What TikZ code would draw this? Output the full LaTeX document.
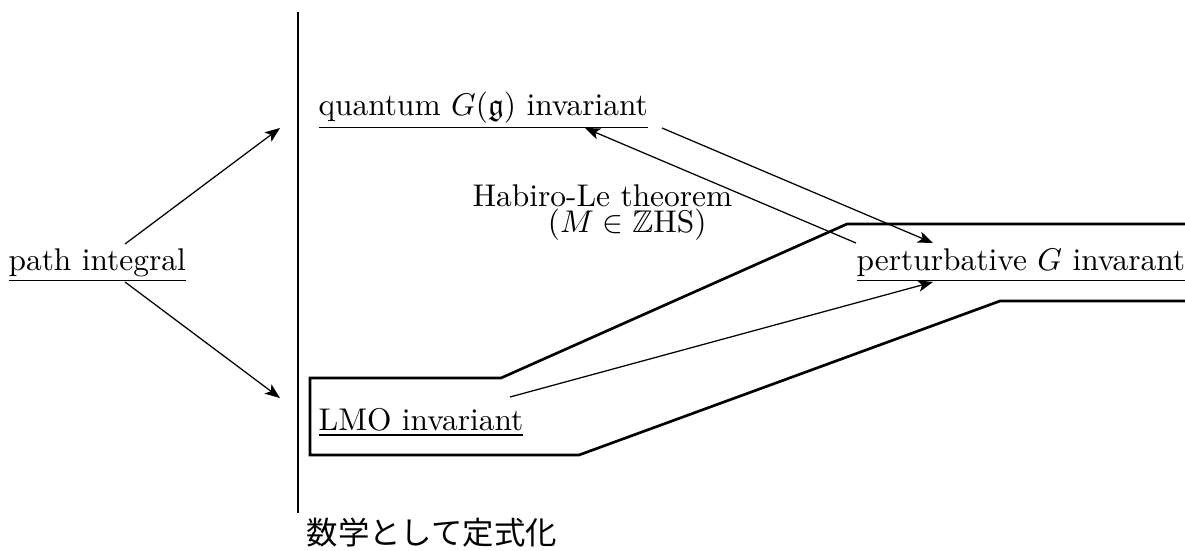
\documentclass[tikz,border=0pt]{standalone}
\usepackage{amsmath,amssymb}
\usepackage{fontspec}
\newfontfamily\cjk{Noto Sans CJK JP}
\usetikzlibrary{arrows.meta}
\begin{document}
\begin{tikzpicture}[x=0.3185pt,y=-0.3185pt,
  lbl/.style={inner sep=0pt,anchor=base west,font=\fontsize{10pt}{12pt}\selectfont},
  conn/.style={line width=0.4pt,-{Stealth[length=4.8pt,width=3.7pt,inset=1.2pt]}},
  thin line/.style={line width=0.45pt},
  band/.style={line width=0.85pt,line join=miter}]
\useasboundingbox (0,0) rectangle (1185,550);
% divider
\coordinate (vtop) at (298,12);
\coordinate (vbot) at (298,513);
\draw[thin line] (vtop) -- (vbot);
% nodes
\node[lbl] (pi) at (8,270) {\underline{path integral}};
\node[lbl] (qi) at (318,115) {\underline{quantum $G(\mathfrak{g})$ invariant}};
\node[lbl] (pg) at (856,270) {\underline{perturbative $G$ invarant}};
\node[lbl] (lmo) at (318,430) {\underline{LMO invariant}};
\node[lbl,anchor=north west,align=left] (hl) at (472,184)
  {Habiro-Le theorem\\[-3.7pt]\hspace*{24pt}$(M\in\mathbb{Z}\mathrm{HS})$};
\node[lbl,font=\fontsize{10pt}{12pt}\selectfont\cjk] (jp) at (306,544) {数学として定式化};
% connector end points
\coordinate (piU) at (125,244);
\coordinate (piD) at (125,282);
\coordinate (qiT) at (280,128);
\coordinate (lmoT) at (280,398);
\coordinate (qiR) at (662,128);
\coordinate (qiH) at (585,128);
\coordinate (pgU) at (933,243);
\coordinate (pgS) at (856,243);
\coordinate (pgD) at (933,282);
\coordinate (lmoS) at (510,397);
% connectors
\draw[conn] (piU) -- (qiT);
\draw[conn] (piD) -- (lmoT);
\draw[conn] (qiR) -- (pgU);
\draw[conn] (pgS) -- (qiH);
\draw[conn] (lmoS) -- (pgD);
% band
\coordinate (b1) at (1185,224);
\coordinate (b2) at (847,224);
\coordinate (b3) at (501,378);
\coordinate (b4) at (310,378);
\coordinate (b5) at (310,455);
\coordinate (b6) at (579,455);
\coordinate (b7) at (1000,301);
\coordinate (b8) at (1185,301);
\draw[band] (b1) -- (b2) -- (b3) -- (b4) -- (b5) -- (b6) -- (b7) -- (b8);
\end{tikzpicture}
\end{document}
